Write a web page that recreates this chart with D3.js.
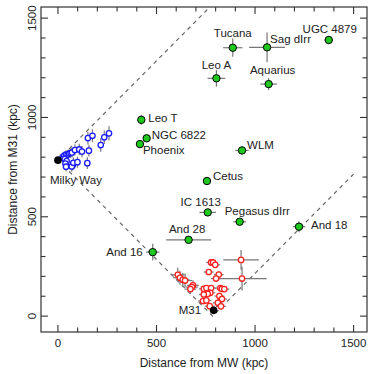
<!DOCTYPE html>
<html>
<head>
<meta charset="utf-8">
<script src="https://cdn.jsdelivr.net/npm/d3@7"></script>
<style>
  body { margin: 0; background: #fff; }
  svg text { font-family: "Liberation Sans", Arial, sans-serif; fill: #222; }
</style>
</head>
<body>
<svg id="chart" width="374" height="374"></svg>
<script>
// Isolated dwarfs (green, labelled)
var dwarfNames = ["Tucana", "Sag dIrr", "UGC 4879", "Leo A", "Aquarius", "WLM", "Cetus",
    "Leo T", "NGC 6822", "Phoenix", "IC 1613", "Pegasus dIrr", "And 18", "And 28", "And 16"];
var dwarfX = [887, 1061, 1374, 804, 1069, 934, 756, 423, 450, 416, 760, 922, 1223, 663, 481];
var dwarfY = [1351, 1353, 1390, 1197, 1168, 834, 680, 988, 895, 866, 522, 475, 450, 384, 322];
var dwarfXErr = [49, 91, 22, 45, 42, 34, 17, 8, 8, 8, 42, 32, 32, 114, 34];
var dwarfYErr = [46, 75, 20, 42, 30, 21, 8, 25, 10, 8, 10, 10, 28, 10, 42];

// Milky Way satellites (blue open)
var mwSatX = [24, 32, 41, 49, 56, 64, 71, 34, 44, 38, 41, 75, 70, 78, 86, 108, 122, 99, 149, 157, 152, 175, 217, 235, 259];
var mwSatY = [801, 808, 813, 813, 818, 821, 823, 791, 780, 768, 752, 760, 753, 772, 836, 839, 828, 775, 770, 833, 896, 908, 861, 900, 920];
var mwSatXErr = [3, 3, 3, 4, 4, 4, 4, 3, 3, 3, 3, 4, 4, 4, 5, 5, 5, 5, 6, 6, 6, 7, 8, 8, 9];
var mwSatYErr = [20, 20, 22, 22, 22, 24, 24, 20, 22, 22, 24, 26, 26, 26, 28, 28, 28, 28, 30, 30, 32, 32, 34, 34, 36];

// M31 satellites (red open)
var m31SatX = [777, 787, 798, 765, 816, 802, 929, 934, 608, 619, 633, 645, 685, 680, 672, 740, 753, 777,
    773, 760, 740, 824, 832, 844, 819, 832, 736, 753, 770, 811, 827];
var m31SatY = [270, 270, 258, 222, 209, 189, 283, 189, 208, 193, 183, 179, 155, 146, 136, 137, 141, 141,
    117, 112, 109, 141, 137, 136, 101, 86, 76, 79, 50, 67, 49];
var m31SatXErr = [25, 25, 25, 25, 25, 25, 90, 125, 35, 35, 35, 35, 30, 30, 30, 25, 25, 25,
    25, 25, 25, 25, 25, 25, 25, 25, 25, 25, 25, 25, 25];
var m31SatYErr = [15, 15, 15, 15, 15, 15, 50, 60, 35, 35, 35, 35, 25, 25, 25, 15, 15, 15,
    15, 15, 15, 15, 15, 15, 15, 15, 15, 15, 15, 15, 15];

// The two hosts (black)
var hostNames = ["Milky Way", "M31"];
var hostX = [0, 790];
var hostY = [785, 29];

// Triangle-inequality boundaries, D(MW-M31) = 785 kpc
var upperLine = [[0, 785], [1500, 2285]];
var vLine = [[0, 785], [785, 0], [1500, 715]];

var xTicks = [0, 500, 1000, 1500];
var yTicks = [0, 500, 1000, 1500];
var minorTicks = d3.range(0, 1501, 100);

// label placement relative to the point: [dx, dy, anchor]
var labelPos = {
    "Tucana": [0, -11, "middle"],
    "Sag dIrr": [3, -4, "start"],
    "UGC 4879": [1, -7, "middle"],
    "Leo A": [0, -9, "middle"],
    "Aquarius": [4, -10, "middle"],
    "WLM": [5, -1, "start"],
    "Cetus": [6, -1, "start"],
    "Leo T": [7, 2, "start"],
    "NGC 6822": [5, 1, "start"],
    "Phoenix": [3, 10, "start"],
    "IC 1613": [-7, -6, "middle"],
    "Pegasus dIrr": [-15, -6.5, "start"],
    "And 18": [12, 2.5, "start"],
    "And 28": [-1.5, -7, "middle"],
    "And 16": [-10, 4, "end"],
    "Milky Way": [-8, 23.5, "start"],
    "M31": [-12.5, 4, "end"]
};

var margin = { left: 41, right: 7, top: 7, bottom: 42 };
var width = 374 - margin.left - margin.right;
var height = 374 - margin.top - margin.bottom;

var svg = d3.select("#chart");
var g = svg.append("g")
    .attr("transform", "translate(" + margin.left + "," + margin.top + ")");

var x = d3.scaleLinear().domain([-86, 1568]).range([0, width]);
var y = d3.scaleLinear().domain([-80, 1556]).range([height, 0]);

g.append("defs").append("clipPath").attr("id", "clip")
    .append("rect").attr("width", width).attr("height", height);

var plot = g.append("g").attr("clip-path", "url(#clip)");

// dashed boundary lines
var line = d3.line().x(d => x(d[0])).y(d => y(d[1]));
[upperLine, vLine].forEach(function(pts) {
    plot.append("path")
        .attr("d", line(pts))
        .attr("fill", "none")
        .attr("stroke", "#666")
        .attr("stroke-width", 1.2)
        .attr("stroke-dasharray", "4,4");
});

// error bars
function errorBars(xs, ys, xe, ye) {
    var eg = plot.append("g").attr("stroke", "#777").attr("stroke-width", 1.2);
    xs.forEach(function(v, i) {
        eg.append("line")
            .attr("x1", x(v - xe[i])).attr("x2", x(v + xe[i]))
            .attr("y1", y(ys[i])).attr("y2", y(ys[i]));
        eg.append("line")
            .attr("x1", x(v)).attr("x2", x(v))
            .attr("y1", y(ys[i] - ye[i])).attr("y2", y(ys[i] + ye[i]));
    });
}
errorBars(mwSatX, mwSatY, mwSatXErr, mwSatYErr);
errorBars(m31SatX, m31SatY, m31SatXErr, m31SatYErr);
errorBars(dwarfX, dwarfY, dwarfXErr, dwarfYErr);

// points
plot.append("g").selectAll("circle")
    .data(mwSatX)
    .join("circle")
    .attr("cx", d => x(d))
    .attr("cy", (d, i) => y(mwSatY[i]))
    .attr("r", 2.7)
    .attr("fill", "#fff")
    .attr("stroke", "#1a1aff")
    .attr("stroke-width", 1.3);

plot.append("g").selectAll("circle")
    .data(m31SatX)
    .join("circle")
    .attr("cx", d => x(d))
    .attr("cy", (d, i) => y(m31SatY[i]))
    .attr("r", 2.7)
    .attr("fill", "#fff")
    .attr("stroke", "#ff2020")
    .attr("stroke-width", 1.3);

plot.append("g").selectAll("circle")
    .data(hostX)
    .join("circle")
    .attr("cx", d => x(d))
    .attr("cy", (d, i) => y(hostY[i]))
    .attr("r", 3.8)
    .attr("fill", "#000");

plot.append("g").selectAll("circle")
    .data(dwarfX)
    .join("circle")
    .attr("cx", d => x(d))
    .attr("cy", (d, i) => y(dwarfY[i]))
    .attr("r", 3.7)
    .attr("fill", "#1ec81e")
    .attr("stroke", "#000")
    .attr("stroke-width", 1);

// labels
function addLabels(names, xs, ys) {
    names.forEach(function(n, i) {
        var p = labelPos[n];
        g.append("text")
            .attr("x", x(xs[i]) + p[0])
            .attr("y", y(ys[i]) + p[1])
            .attr("text-anchor", p[2])
            .attr("font-size", "11.5px")
            .text(n);
    });
}
addLabels(dwarfNames, dwarfX, dwarfY);
addLabels(hostNames, hostX, hostY);

// frame with inward ticks on all sides
g.append("rect")
    .attr("width", width).attr("height", height)
    .attr("fill", "none").attr("stroke", "#333").attr("stroke-width", 1.2);

var tg = g.append("g").attr("stroke", "#333").attr("stroke-width", 1.1);
minorTicks.forEach(function(t) {
    var len = (t % 500 === 0) ? 7 : 4.5;
    var xp = x(t), yp = y(t);
    tg.append("line").attr("x1", xp).attr("x2", xp).attr("y1", height).attr("y2", height - len);
    tg.append("line").attr("x1", xp).attr("x2", xp).attr("y1", 0).attr("y2", len);
    tg.append("line").attr("x1", 0).attr("x2", len).attr("y1", yp).attr("y2", yp);
    tg.append("line").attr("x1", width).attr("x2", width - len).attr("y1", yp).attr("y2", yp);
});

// tick labels
g.append("g").selectAll("text")
    .data(xTicks)
    .join("text")
    .attr("x", d => x(d))
    .attr("y", height + 15)
    .attr("text-anchor", "middle")
    .attr("font-size", "11.5px")
    .text(d => d);

g.append("g").selectAll("text")
    .data(yTicks)
    .join("text")
    .attr("transform", d => "translate(" + (-5) + "," + y(d) + ") rotate(-90)")
    .attr("text-anchor", "middle")
    .attr("font-size", "11.5px")
    .text(d => d);

// axis titles
g.append("text")
    .attr("x", width / 2)
    .attr("y", height + 34.5)
    .attr("text-anchor", "middle")
    .attr("font-size", "12px")
    .text("Distance from MW (kpc)");

g.append("text")
    .attr("transform", "translate(" + (-24.5) + "," + (height / 2) + ") rotate(-90)")
    .attr("text-anchor", "middle")
    .attr("font-size", "12px")
    .text("Distance from M31 (kpc)");
</script>
</body>
</html>
